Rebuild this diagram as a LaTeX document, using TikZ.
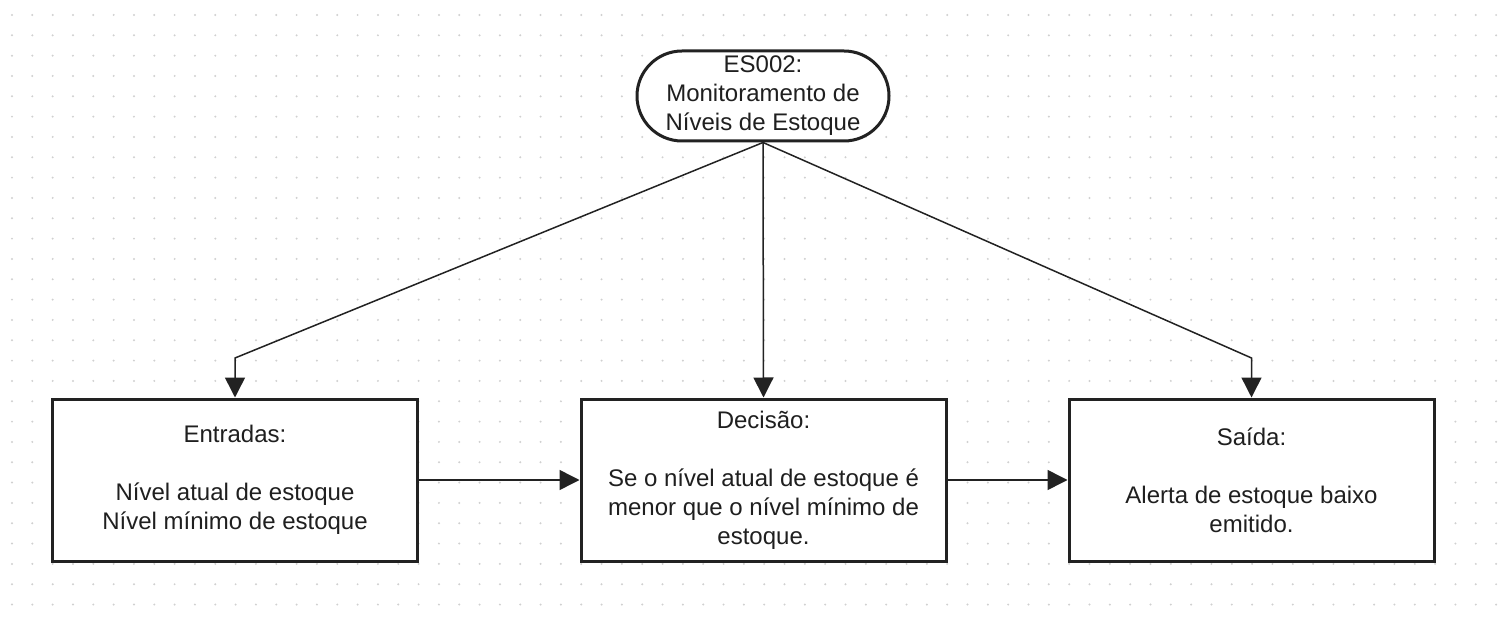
\documentclass[tikz,border=0pt]{standalone}
\usepackage{fontspec}
\setmainfont{Liberation Sans}
\usetikzlibrary{arrows.meta}
\definecolor{ink}{HTML}{222222}
\definecolor{txt}{HTML}{1F1F1F}
\definecolor{griddot}{HTML}{D0D0D0}
\begin{document}
\begin{tikzpicture}[x=1pt,y=-1pt,
  box/.style={draw=ink, line width=3pt, fill=white, rectangle, minimum width=365pt, minimum height=162pt, inner sep=0pt, align=center, text=txt, font=\fontsize{24}{29}\selectfont},
  term/.style={draw=ink, line width=3pt, fill=white, rectangle, rounded corners=45pt, minimum width=252pt, minimum height=90pt, inner sep=0pt, align=center, text=txt, font=\fontsize{24}{29}\selectfont},
  conn/.style={draw=ink, line width=1.5pt, -{Triangle[length=20pt,width=20pt]}}
]
\fill[white] (0,0) rectangle (1510,620);
\useasboundingbox (0,0) rectangle (1510,620);
\foreach \i in {0,...,73}{
  \foreach \j in {0,...,29}{
    \fill[griddot] ({12+20.33*\i},{15+20.33*\j}) circle (1.1pt);
  }
}
\node[term] (top) at (763,96) {ES002:\\Monitoramento de\\Níveis de Estoque};
\node[box] (ent) at (235,480) {Entradas:\\[29pt]Nível atual de estoque\\Nível mínimo de estoque};
\node[box] (dec) at (763.5,480) {Decisão:\\[29pt]Se o nível atual de estoque é\\menor que o nível mínimo de\\estoque.};
\node[box] (sai) at (1251.5,480) {Saída:\\[29pt]Alerta de estoque baixo\\emitido.};
\coordinate (kl) at (235,358);
\coordinate (kr) at (1251.5,358);
\draw[conn] (top.south) -- (kl) -- (ent.north);
\draw[conn] (top.south) -- (dec.north);
\draw[conn] (top.south) -- (kr) -- (sai.north);
\draw[conn] (ent.east) -- (dec.west);
\draw[conn] (dec.east) -- (sai.west);
\end{tikzpicture}
\end{document}
